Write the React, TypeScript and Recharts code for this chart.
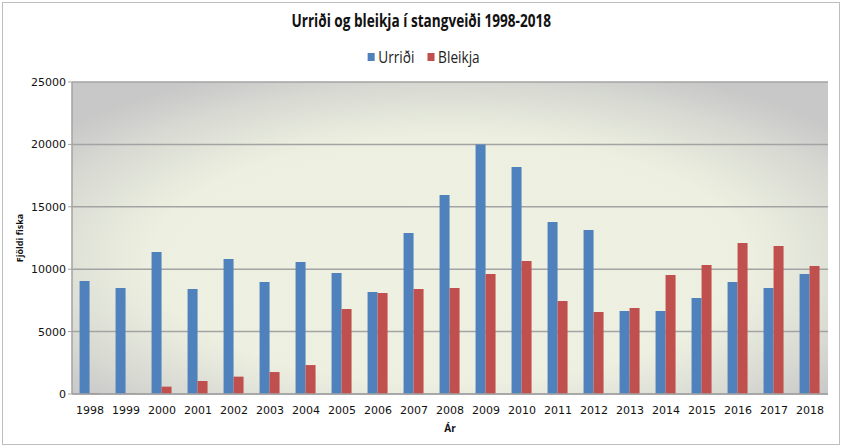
import React from "react";
import { BarChart, Bar, XAxis, YAxis, CartesianGrid, Legend } from "recharts";

const years = ["1998","1999","2000","2001","2002","2003","2004","2005","2006","2007","2008","2009","2010","2011","2012","2013","2014","2015","2016","2017","2018"];
const urridi = [9050,8500,11380,8410,10820,8970,10580,9700,8170,12900,15950,20000,18190,13780,13140,6650,6650,7690,8970,8490,9620];
const bleikja = [50,30,590,1040,1390,1760,2320,6810,8090,8410,8490,9620,10660,7450,6570,6890,9540,10340,12100,11860,10260];
const yTicks = [0,5000,10000,15000,20000,25000];

const data = years.map((y, i) => ({ year: y, Urriði: urridi[i], Bleikja: bleikja[i] }));

const font = "'Open Sans', 'Liberation Sans', sans-serif";

const LegendContent = () => (
  <div style={{ display: "flex", justifyContent: "center", alignItems: "center", fontFamily: font, fontSize: 15.5, color: "#222" }}>
    <div style={{ display: "inline-flex", alignItems: "center", transform: "scaleX(0.88)", marginLeft: 6 }}>
      <span style={{ width: 8, height: 8, background: "#4F81BD", display: "inline-block", marginRight: 4 }} />
      <span style={{ marginRight: 15 }}>Urriði</span>
      <span style={{ width: 8, height: 8, background: "#C0504D", display: "inline-block", marginRight: 4 }} />
      <span>Bleikja</span>
    </div>
  </div>
);

export default function App() {
  return (
    <div style={{ position: "absolute", left: 0, top: 0, width: 842, height: 447, background: "#fff" }}>
      <div style={{ position: "absolute", left: 2, top: 2, width: 836, height: 441, border: "1px solid #BDBDBD" }} />
      <div style={{ position: "absolute", left: 0, top: 9, width: 842, textAlign: "center" }}>
        <span style={{ display: "inline-block", transform: "scaleX(0.8)", fontFamily: font, fontWeight: "bold", fontSize: 17, color: "#111" }}>
          Urriði og bleikja í stangveiði 1998-2018
        </span>
      </div>
      <BarChart width={842} height={447} data={data} margin={{ top: 82, right: 14, bottom: 13, left: 12 }} barCategoryGap="21%" barGap={0}>
        <defs>
          <radialGradient id="plotBg" cx="50%" cy="57%" r="66%">
            <stop offset="0%" stopColor="#EEF1E2" />
            <stop offset="60%" stopColor="#EDF0E0" />
            <stop offset="82%" stopColor="#DADCD4" />
            <stop offset="100%" stopColor="#C8C8C8" />
          </radialGradient>
        </defs>
        <CartesianGrid vertical={false} fill="url(#plotBg)" fillOpacity={1} stroke="#A3A3A3" strokeWidth={1.5} />
        <XAxis dataKey="year" height={40} tickLine={false} axisLine={{ stroke: "#A3A3A3", strokeWidth: 1.5 }}
          tick={{ fontSize: 11, fill: "#111", fontFamily: "'DejaVu Sans', sans-serif" }} tickMargin={6}
          label={{ value: "Ár", position: "insideBottom", offset: 2, fontSize: 10, fontWeight: "bold", fill: "#111", fontFamily: font }} />
        <YAxis width={60} domain={[0, 25000]} ticks={yTicks} interval={0} tickSize={4}
          tickLine={{ stroke: "#A3A3A3" }} axisLine={{ stroke: "#A3A3A3", strokeWidth: 1.5 }}
          tick={{ fontSize: 11, fill: "#111", fontFamily: "'DejaVu Sans', sans-serif" }}
          label={{ value: "Fjöldi fiska", angle: -90, position: "insideLeft", offset: 8, fontSize: 9, fontWeight: "bold", fill: "#111", fontFamily: font, style: { textAnchor: "middle" } }} />
        <Legend verticalAlign="middle" align="center" content={<LegendContent />} wrapperStyle={{ top: 46, left: 0, width: 842 }} />
        <Bar dataKey="Urriði" fill="#4F81BD" isAnimationActive={false} />
        <Bar dataKey="Bleikja" fill="#C0504D" isAnimationActive={false} />
      </BarChart>
    </div>
  );
}
